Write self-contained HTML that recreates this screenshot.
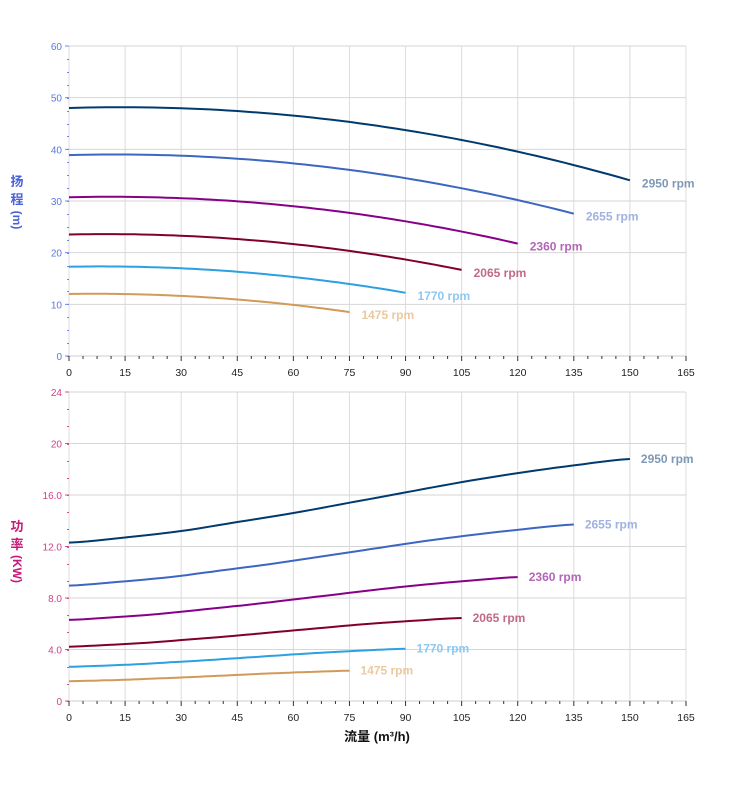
<!DOCTYPE html>
<html><head><meta charset="utf-8">
<style>
html,body{margin:0;padding:0;background:#fff;}
svg{display:block;font-family:"Liberation Sans","Noto Sans CJK SC",sans-serif;}
</style></head>
<body>
<svg id="c" width="752" height="797" viewBox="0 0 752 797" xmlns="http://www.w3.org/2000/svg">
<g id="g"></g>
<text x="17" y="186" font-size="13" font-weight="bold" fill="#4a62d8" text-anchor="middle">扬</text>
<text x="17" y="204" font-size="13" font-weight="bold" fill="#4a62d8" text-anchor="middle">程</text>
<text x="17" y="224" font-size="12" font-weight="bold" fill="#4a62d8" text-anchor="middle" transform="rotate(90 17 220)">(m)</text>
<text x="17" y="531" font-size="13" font-weight="bold" fill="#c8187a" text-anchor="middle">功</text>
<text x="17" y="549" font-size="13" font-weight="bold" fill="#c8187a" text-anchor="middle">率</text>
<text x="17" y="573" font-size="12" font-weight="bold" fill="#c8187a" text-anchor="middle" transform="rotate(90 17 569)">(KW)</text>
<text x="377" y="741" font-size="13" font-weight="bold" fill="#111" text-anchor="middle">流量 (m³/h)</text>
</svg>
<script>
var g=document.getElementById('g'),s='';
var X0=69,XW=(686-69)/165;
function px(q){return X0+q*XW;}
var T={top:46,bot:356,max:60},B={top:392,bot:701,max:24};
function py(P,v){return P.bot-(P.bot-P.top)*v/P.max;}
[T,B].forEach(function(P,i){
 for(var q=0;q<=165;q+=15){s+='<line x1="'+px(q)+'" y1="'+P.top+'" x2="'+px(q)+'" y2="'+P.bot+'" stroke="#dcdcdc" stroke-width="1"/>';}
 var step=i==0?10:4;
 for(var v=0;v<=P.max;v+=step){var y=py(P,v);s+='<line x1="'+X0+'" y1="'+y+'" x2="686" y2="'+y+'" stroke="#d6d6d6" stroke-width="1"/>';
  var lab=i==0?v:(v==0||v==20||v==24?v:v.toFixed(1));
  s+='<text x="'+(X0-7)+'" y="'+(y+4)+'" font-size="10" fill="'+(i==0?'#5a78e0':'#d0408a')+'" text-anchor="end">'+lab+'</text>';
  s+='<line x1="'+(X0-4)+'" y1="'+y+'" x2="'+X0+'" y2="'+y+'" stroke="'+(i==0?'#6a88ee':'#d84a98')+'" stroke-width="1"/>';}
 var ms=i==0?2.5:4/3;
 for(var k=0;k*ms<P.max-0.01;k++){var y=Math.round(py(P,k*ms))+0.5;s+='<line x1="'+(X0-2)+'" y1="'+y+'" x2="'+X0+'" y2="'+y+'" stroke="'+(i==0?'#6a88ee':'#d84a98')+'" stroke-width="1"/>';}
 s+='<line x1="'+X0+'" y1="'+P.bot+'" x2="686" y2="'+P.bot+'" stroke="#ccc" stroke-width="1"/>';
 for(var q=0;q<=165;q+=3.75){var big=(Math.abs(q/15-Math.round(q/15))<1e-6);
  s+='<line x1="'+px(q)+'" y1="'+P.bot+'" x2="'+px(q)+'" y2="'+(P.bot+(big?5:3))+'" stroke="#333" stroke-width="1"/>';}
 for(var q=0;q<=165;q+=15){s+='<text x="'+px(q)+'" y="'+(P.bot+20)+'" font-size="10.5" fill="#222" text-anchor="middle">'+q+'</text>';}
});
var sp=[[2950,1,'#003a6e','#7f98b6'],[2655,0.9,'#3d66c0','#9fb2e0'],[2360,0.8,'#880088','#b266b8'],[2065,0.7,'#80002c','#c06a88'],[1770,0.6,'#2ca0e0','#8ec8f0'],[1475,0.5,'#d09a58','#ebc9a0']];
function H0(q){return 48+0.0213*q-0.000764*q*q;}
var pq=[0,15,30,45,60,75,90,105,120,135,150],pv=[12.3,12.7,13.2,13.9,14.6,15.4,16.2,17.0,17.7,18.3,18.8];
function P0(q){var i=Math.min(9,Math.floor(q/15));var t=(q-pq[i])/15;
 var a=pv[Math.max(0,i-1)],b=pv[i],c=pv[i+1],d=pv[Math.min(10,i+2)];
 var m1=(c-a)/2,m2=(d-b)/2;var t2=t*t,t3=t2*t;
 return (2*t3-3*t2+1)*b+(t3-2*t2+t)*m1+(-2*t3+3*t2)*c+(t3-t2)*m2;}
sp.forEach(function(o){var r=o[1],qm=150*r,d1='',d2='';
 for(var k=0;k<=60;k++){var q=qm*k/60,q0=q/r;
  d1+=(k?'L':'M')+px(q).toFixed(1)+','+py(T,r*r*H0(q0)).toFixed(1);
  d2+=(k?'L':'M')+px(q).toFixed(1)+','+py(B,r*r*r*P0(q0)).toFixed(1);}
 s+='<path d="'+d1+'" fill="none" stroke="'+o[2]+'" stroke-width="2"/>';
 s+='<path d="'+d2+'" fill="none" stroke="'+o[2]+'" stroke-width="2"/>';
 var yt=py(T,r*r*H0(150)),yb=py(B,r*r*r*P0(150));
 s+='<text x="'+(px(qm)+12)+'" y="'+(yt+7)+'" font-size="12" font-weight="bold" fill="'+o[3]+'">'+o[0]+' rpm</text>';
 s+='<text x="'+(px(qm)+11)+'" y="'+(yb+4)+'" font-size="12" font-weight="bold" fill="'+o[3]+'">'+o[0]+' rpm</text>';
});
g.innerHTML=s;
</script>
</body></html>
